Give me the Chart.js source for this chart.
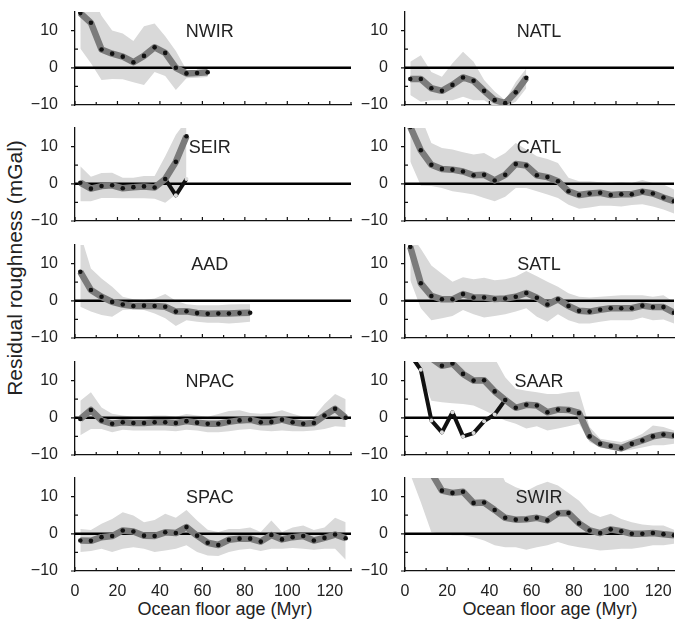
<!DOCTYPE html>
<html>
<head>
<meta charset="utf-8">
<script src="https://cdn.jsdelivr.net/npm/chart.js@4.4.1/dist/chart.umd.min.js"></script>
<style>
  body { margin: 0; background: #fff; }
  #fig { position: relative; width: 678px; height: 619px; overflow: hidden;
         font-family: 'Liberation Sans', Arial, Helvetica, sans-serif; color: #222; }
  #fig canvas { position: absolute; }
  .xt { position: absolute; top: 599px; transform: translateX(-50%); font-size: 18px;
        line-height: 20px; white-space: nowrap; }
  .yt { position: absolute; left: 15px; top: 268px; font-size: 21px; line-height: 22px;
        white-space: nowrap; transform: translate(-50%, -50%) rotate(-90deg); }
</style>
</head>
<body>
<div id="fig">
  <div class="yt">Residual roughness (mGal)</div>
  <div class="xt" style="left:225px">Ocean floor age (Myr)</div>
  <div class="xt" style="left:550px">Ocean floor age (Myr)</div>
</div>
<script>
// bin centres (Myr)
const ages = [2.5, 7.5, 12.5, 17.5, 22.5, 27.5, 32.5, 37.5, 42.5, 47.5, 52.5, 57.5, 62.5,
              67.5, 72.5, 77.5, 82.5, 87.5, 92.5, 97.5, 102.5, 107.5, 112.5, 117.5, 122.5, 127.5];

// mean residual roughness + shaded range, per ridge
const nwirMean = [14.7, 12.1, 4.9, 3.8, 3.0, 1.5, 3.2, 5.5, 4.0, 0.0, -1.5, -1.4, -1.2];
const nwirHigh = [20, 20, 14, 10, 9.2, 7.2, 11.2, 11.9, 8.5, 4.5, -0.6, -0.8, -0.8];
const nwirLow  = [5.2, 1.2, -3.3, -3.0, -3.1, -3.9, -4.6, -1.1, -2.2, -6.0, -2.8, -2.7, -2.5];

const natlMean = [-3.0, -3.0, -5.5, -6.2, -4.6, -2.6, -3.5, -6.2, -8.7, -9.5, -6.6, -2.7];
const natlHigh = [1.6, 3.4, -1.1, -2.4, 1.2, 4.3, 1.6, -3.3, -6.4, -8.7, -3.8, -0.2];
const natlLow  = [-7.3, -9.1, -8.7, -8.7, -8.7, -7.8, -8.7, -8.7, -10.5, -10.5, -9.1, -5.5];

const seirMean = [0.3, -1.3, -0.6, -0.4, -1.2, -0.9, -0.7, -1.0, 1.3, 5.9, 12.8];
const seirAlt  = [0.3, -1.3, -0.6, -0.4, -1.2, -0.9, -0.7, -1.0, 1.3, -3.1, 1.3];
const seirHigh = [4.7, 1.9, 2.9, 3.0, 1.6, 1.6, 2.1, 2.1, 7.4, 13.2, 17];
const seirLow  = [-4.7, -4.7, -3.8, -3.8, -3.9, -3.9, -3.9, -4.0, -5.1, -2.9, 0.3];

const catlMean = [15.3, 9.0, 5.1, 4.0, 3.8, 3.3, 2.3, 2.4, 0.9, 2.4, 5.3, 4.9, 2.3, 1.8, 0.7,
                  -2.0, -3.0, -2.6, -2.4, -3.0, -2.8, -2.8, -2.1, -2.6, -3.7, -4.7];
const catlHigh = [20, 18, 11.0, 9.6, 9.2, 8.5, 7.9, 8.3, 6.7, 8.3, 11.0, 9.2, 7.4, 6.7, 5.6,
                  1.6, 0.7, 0.7, 0.4, 0.2, 0.4, 0.2, 1.0, 0.2, -0.2, -1.5];
const catlLow  = [6, -0.5, -0.6, -1.1, -2.0, -2.4, -2.9, -3.8, -4.7, -3.5, -1.1, -1.1, -2.0, -2.9, -3.8,
                  -5.6, -6.7, -6.4, -5.9, -5.9, -6.1, -5.7, -5.5, -6.1, -6.9, -8.0];

const aadMean = [7.8, 2.9, 1.1, -0.3, -1.0, -1.4, -1.3, -1.4, -1.6, -2.9, -2.8, -3.3, -3.5, -3.4, -3.4, -3.3, -3.2];
const aadHigh = [18, 8.7, 6.0, 3.8, 1.1, 0.4, 0.2, 0.6, 1.8, 0.0, -0.9, -1.2, -1.2, -1.2, -1.0, -0.9, -0.9];
const aadLow  = [-1.6, -2.9, -3.8, -4.3, -2.5, -2.3, -2.5, -3.4, -4.7, -6.8, -5.2, -5.6, -5.9, -5.9, -6.1, -5.9, -5.6];

const satlMean = [14.5, 4.7, 1.3, 0.4, 0.4, 1.8, 0.9, 0.9, 0.5, 0.6, 1.1, 2.1, 0.8, -1.0, 0.4,
                  -1.4, -2.7, -2.9, -2.4, -2.0, -2.0, -2.0, -1.3, -1.7, -1.7, -3.2];
const satlHigh = [18, 14, 9.5, 7.3, 5.1, 6.3, 5.8, 6.2, 5.5, 5.8, 6.5, 8.0, 6.6, 5.1, 3.8,
                  2.0, 1.1, 0.9, 1.1, 1.3, 1.5, 1.5, 1.5, 1.1, 1.5, -0.3];
const satlLow  = [5.5, -2.0, -5.2, -4.7, -4.1, -2.5, -3.6, -4.5, -4.1, -3.6, -2.9, -2.0, -4.3, -5.6, -3.6,
                  -5.2, -6.1, -6.1, -5.6, -5.2, -5.2, -5.2, -4.5, -5.2, -5.0, -6.1];

const npacMean = [-0.3, 2.1, -0.7, -1.6, -1.2, -1.4, -1.4, -1.2, -1.2, -1.4, -0.9, -1.3, -1.6,
                  -1.6, -1.1, -0.7, -0.5, -1.2, -1.1, -0.5, -1.2, -1.6, -1.4, 0.6, 2.4, 0.0];
const npacHigh = [4.6, 6.9, 2.8, 1.1, 0.6, 0.3, 0.3, 0.6, 0.6, 0.3, 1.0, 0.6, 0.3,
                  1.0, 1.8, 2.0, 1.3, 1.1, 1.3, 2.0, 1.1, 0.3, 0.3, 3.7, 6.4, 5.0];
const npacLow  = [-4.7, -3.0, -3.0, -3.9, -3.2, -3.4, -3.4, -3.4, -3.4, -3.6, -3.2, -3.4, -3.9,
                  -3.9, -3.6, -3.2, -3.0, -3.4, -3.6, -3.4, -3.6, -3.6, -3.4, -3.0, -2.3, -2.5];

const saarMean = [null, null, 16, 14.0, 14.6, 11.8, 10.0, 10.1, 7.1, 4.8, 2.7, 3.5, 3.3, 1.5, 2.2,
                  2.1, 1.3, -5.0, -7.0, -7.6, -8.2, -7.0, -6.1, -5.0, -4.5, -4.8];
const saarAlt  = [17, 12.9, -0.7, -3.9, 1.5, -5.0, -4.1, -0.9, 0.9, 4.8];
const saarHigh = [20, 20, 20, 20, 20, 20, 20, 20, 16, 10.9, 7.8, 7.3, 6.9, 6.4, 6.4,
                  6.9, 7.1, -2.5, -5.6, -6.1, -6.5, -5.6, -4.3, -2.1, -2.5, -3.4];
const saarLow  = [16, 12, 4.6, 4.2, 3.9, 3.7, 3.3, 2.0, 0.6, -0.7, -1.6, -2.9, -2.3, -3.4, -2.9,
                  -2.3, -1.6, -6.5, -8.0, -8.5, -9.0, -8.5, -8.0, -7.4, -7.4, -7.0];

const spacMean = [-1.8, -1.9, -0.9, -0.6, 0.9, 0.6, -0.5, -0.6, 0.4, 0.2, 1.8, -0.5, -2.4,
                  -3.0, -1.6, -1.3, -1.3, -2.1, -0.3, -1.5, -0.9, -0.6, -1.8, -1.1, -0.2, -1.2];
const spacHigh = [1.3, 1.0, 2.7, 4.0, 5.8, 4.9, 3.1, 3.7, 5.4, 4.3, 6.4, 3.6, 1.1,
                  0.5, 1.3, 1.3, 1.7, 0.5, 3.6, 0.5, 1.7, 2.2, 1.0, 1.7, 4.3, 3.1];
const spacLow  = [-4.9, -4.6, -4.0, -4.9, -4.0, -3.6, -4.0, -4.9, -4.5, -4.0, -3.1, -4.9, -5.8,
                  -6.0, -4.9, -4.3, -4.0, -4.6, -4.0, -4.0, -3.8, -4.0, -4.3, -4.0, -4.0, -7.0];

const swirMean = [null, null, 16.4, 11.6, 11.0, 11.3, 8.3, 8.4, 6.4, 4.3, 3.8, 3.9, 4.3, 3.6, 5.5,
                  5.6, 2.8, 0.9, 0.2, 1.2, 0.7, 0.0, 0.0, 0.2, -0.1, -0.4];
const swirHigh = [20, 20, 20, 20, 20, 20, 20, 20, 20, 14, 12.5, 11.5, 13, 14, 13,
                  11, 8.9, 5.8, 4.5, 5.4, 4.0, 3.1, 2.5, 2.2, 2.2, 1.1];
const swirLow  = [16, 8.5, 0.4, 0.0, -0.4, -0.4, -0.9, -1.8, -3.1, -3.6, -3.6, -4.3, -3.6, -3.1, -2.2,
                  -3.1, -3.6, -4.0, -4.5, -4.3, -4.0, -4.0, -3.6, -3.1, -3.1, -2.7];

const yTicks = [-10, -5, 0, 5, 10];
const labelAge = 63.5;
const FONT = "'Liberation Sans', Arial, Helvetica, sans-serif";

const panels = [
  { name: 'NWIR', col: 0, row: 0, mean: nwirMean, high: nwirHigh, low: nwirLow },
  { name: 'NATL', col: 1, row: 0, mean: natlMean, high: natlHigh, low: natlLow },
  { name: 'SEIR', col: 0, row: 1, mean: seirMean, high: seirHigh, low: seirLow, alt: seirAlt },
  { name: 'CATL', col: 1, row: 1, mean: catlMean, high: catlHigh, low: catlLow },
  { name: 'AAD',  col: 0, row: 2, mean: aadMean,  high: aadHigh,  low: aadLow },
  { name: 'SATL', col: 1, row: 2, mean: satlMean, high: satlHigh, low: satlLow },
  { name: 'NPAC', col: 0, row: 3, mean: npacMean, high: npacHigh, low: npacLow },
  { name: 'SAAR', col: 1, row: 3, mean: saarMean, high: saarHigh, low: saarLow, alt: saarAlt },
  { name: 'SPAC', col: 0, row: 4, mean: spacMean, high: spacHigh, low: spacLow },
  { name: 'SWIR', col: 1, row: 4, mean: swirMean, high: swirHigh, low: swirLow },
];

const rowTops = [12, 128, 245, 362, 478];
const PLOT_H = 93;

function pts(vals) {
  return vals.map((v, i) => ({ x: ages[i], y: v })).filter(p => p.y !== null);
}

// tick marks (major outward on y, minor inward; x ticks inward) and the panel name
const axisMarks = {
  id: 'axisMarks',
  afterDraw(chart) {
    const { ctx, chartArea: a, scales: { x, y } } = chart;
    ctx.save();
    ctx.strokeStyle = '#111';
    ctx.lineWidth = 1.2;
    ctx.beginPath();
    yTicks.forEach(v => {
      const py = y.getPixelForValue(v);
      if (v % 10 === 0) { ctx.moveTo(a.left - 4, py); ctx.lineTo(a.left, py); }
      else { ctx.moveTo(a.left, py); ctx.lineTo(a.left + 3, py); }
    });
    for (let v = 0; v <= x.max; v += 10) {
      const px = x.getPixelForValue(v);
      ctx.moveTo(px, a.bottom);
      ctx.lineTo(px, a.bottom - (v % 20 === 0 ? 4 : 3));
    }
    ctx.stroke();
    ctx.fillStyle = '#222';
    ctx.font = '18px ' + FONT;
    ctx.textAlign = 'center';
    ctx.textBaseline = 'alphabetic';
    ctx.fillText(chart.options.panelName, x.getPixelForValue(labelAge), y.getPixelForValue(10) + 6.4);
    ctx.restore();
  }
};

const fig = document.getElementById('fig');

panels.forEach(p => {
  const left = p.col ? 405 : 75;
  const right = p.col ? 678 : 355;
  const top = rowTops[p.row];
  const bottomRow = p.row === 4;
  const xBox = bottomRow ? 32 : 10;
  const w = right - left + 70;
  const h = 8 + PLOT_H + xBox;
  const xMax = p.col ? 127.5 : 130;

  const cv = document.createElement('canvas');
  cv.width = w; cv.height = h;
  cv.style.left = (left - 70) + 'px';
  cv.style.top = (top - 8) + 'px';
  cv.style.width = w + 'px';
  cv.style.height = h + 'px';
  fig.appendChild(cv);

  const datasets = [{
    data: pts(p.mean),
    borderColor: '#7b7b7b',
    borderWidth: 6.5,
    pointRadius: 2.3,
    pointBackgroundColor: '#111',
    pointBorderWidth: 0,
  }];
  if (p.alt) {
    datasets.push({
      data: pts(p.alt),
      borderColor: '#111',
      borderWidth: 4,
      pointRadius: 2,
      pointBackgroundColor: '#ddd',
      pointBorderWidth: 0,
    });
  }
  datasets.push({
    data: [{ x: 0, y: 0 }, { x: xMax, y: 0 }],
    borderColor: '#000',
    borderWidth: 2.5,
    pointRadius: 0,
  });
  datasets.push({
    data: pts(p.high),
    borderColor: 'rgba(0,0,0,0)',
    borderWidth: 0,
    pointRadius: 0,
    backgroundColor: '#d9d9d9',
    fill: '+1',
  });
  datasets.push({
    data: pts(p.low),
    borderColor: 'rgba(0,0,0,0)',
    borderWidth: 0,
    pointRadius: 0,
  });
  datasets.forEach(d => { d.clip = 0; });

  new Chart(cv, {
    type: 'line',
    data: { datasets },
    options: {
      panelName: p.name,
      responsive: false,
      animation: false,
      devicePixelRatio: 1,
      layout: { padding: { top: 8, left: 0, right: 0, bottom: 0 } },
      elements: { line: { tension: 0, borderJoinStyle: 'round' } },
      plugins: { legend: { display: false }, tooltip: { enabled: false } },
      scales: {
        x: {
          type: 'linear', min: 0, max: xMax, z: 1,
          grid: { display: false },
          border: { display: true, color: '#111', width: 1.3 },
          ticks: {
            display: bottomRow, stepSize: 10, autoSkip: false, maxRotation: 0,
            includeBounds: false,
            color: '#222', padding: 3, font: { family: FONT, size: 16 },
            callback: v => (v % 20 === 0 ? String(v) : ''),
          },
          afterFit(s) { s.height = xBox; s.paddingLeft = 0; s.paddingRight = 0; },
        },
        y: {
          type: 'linear', min: -10, max: 15, z: 1,
          grid: { display: false },
          border: { display: true, color: '#111', width: 1.3 },
          ticks: {
            stepSize: 5, autoSkip: false, color: '#222', padding: 9,
            font: { family: FONT, size: 16 },
            callback: v => (v === 10 ? '10' : v === 0 ? '0' : v === -10 ? '\u221210' : ''),
          },
          afterFit(s) { s.width = 70; s.paddingTop = 0; s.paddingBottom = 0; },
        },
      },
    },
    plugins: [axisMarks],
  });
});
</script>
</body>
</html>
